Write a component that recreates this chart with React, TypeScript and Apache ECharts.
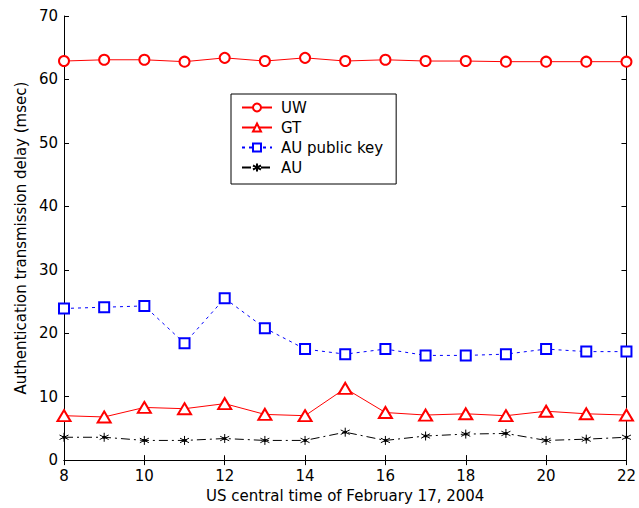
import React, { useEffect, useRef } from "react";
import * as echarts from "echarts";

const hours = [8, 9, 10, 11, 12, 13, 14, 15, 16, 17, 18, 19, 20, 21, 22];
const uw = [62.9, 63.1, 63.1, 62.8, 63.4, 62.9, 63.4, 62.9, 63.1, 62.9, 62.9, 62.8, 62.8, 62.8, 62.8];
const gt = [7.0, 6.8, 8.3, 8.1, 8.9, 7.2, 7.0, 11.3, 7.5, 7.1, 7.3, 7.0, 7.7, 7.3, 7.1];
const auPub = [23.9, 24.1, 24.3, 18.4, 25.5, 20.8, 17.5, 16.7, 17.5, 16.5, 16.5, 16.7, 17.5, 17.1, 17.1];
const au = [3.6, 3.6, 3.1, 3.1, 3.4, 3.1, 3.1, 4.4, 3.1, 3.8, 4.1, 4.2, 3.1, 3.3, 3.6];

const FONT = "'DejaVu Sans', sans-serif";

export default function App() {
  const ref = useRef<HTMLDivElement>(null);
  useEffect(() => {
    if (!ref.current) return;
    const chart = echarts.init(ref.current, undefined, { renderer: "svg" });
    const pairs = (v: number[]) => hours.map((h, i) => [h, v[i]]);
    const axisCommon = {
      axisLine: { show: true, lineStyle: { color: "#000", width: 1 } },
      axisTick: { show: true, inside: true, length: 5, lineStyle: { color: "#000" } },
      splitLine: { show: false },
    };
    chart.setOption({
      animation: false,
      backgroundColor: "#fff",
      textStyle: { fontFamily: FONT },
      grid: { left: 64, right: 7, top: 16, bottom: 47 },
      legend: {
        orient: "vertical",
        left: 231,
        top: 94,
        backgroundColor: "#fff",
        borderColor: "#000",
        borderWidth: 1,
        borderRadius: 0,
        padding: [6, 13, 9, 10],
        itemGap: 5,
        itemWidth: 30,
        itemHeight: 10,
        textStyle: { fontSize: 15, lineHeight: 15, color: "#000", fontFamily: FONT, padding: [0, 0, 0, 4] },
        data: ["UW", "GT", "AU public key", "AU"],
      },
      xAxis: [
        {
          type: "value",
          min: 8,
          max: 22,
          interval: 2,
          name: "US central time of February 17, 2004",
          nameLocation: "middle",
          nameGap: 27,
          nameTextStyle: { fontSize: 15, color: "#000", fontFamily: FONT },
          axisLabel: { fontSize: 15, color: "#000", margin: 8, fontFamily: FONT },
          ...axisCommon,
        },
        {
          type: "value",
          position: "top",
          min: 8,
          max: 22,
          interval: 2,
          axisLabel: { show: false },
          ...axisCommon,
        },
      ],
      yAxis: [
        {
          type: "value",
          min: 0,
          max: 70,
          interval: 10,
          name: "Authentication transmission delay (msec)",
          nameLocation: "middle",
          nameGap: 34,
          nameTextStyle: { fontSize: 15, color: "#000", fontFamily: FONT },
          axisLabel: { fontSize: 15, color: "#000", margin: 6, fontFamily: FONT },
          ...axisCommon,
        },
        {
          type: "value",
          position: "right",
          min: 0,
          max: 70,
          interval: 10,
          axisLabel: { show: false },
          ...axisCommon,
        },
      ],
      series: [
        {
          name: "UW",
          type: "line",
          data: pairs(uw),
          symbol: "emptyCircle",
          symbolSize: 10,
          lineStyle: { color: "#ff0000", width: 1, type: "solid" },
          itemStyle: { color: "#ff0000", borderColor: "#ff0000", borderWidth: 1 },
        },
        {
          name: "GT",
          type: "line",
          data: pairs(gt),
          symbol: "emptyTriangle",
          symbolSize: [13, 11],
          lineStyle: { color: "#ff0000", width: 1, type: "solid" },
          itemStyle: { color: "#ff0000", borderColor: "#ff0000", borderWidth: 1 },
        },
        {
          name: "AU public key",
          type: "line",
          data: pairs(auPub),
          symbol: "emptyRect",
          symbolSize: 10,
          lineStyle: { color: "#0000ff", width: 1, type: [3, 4] },
          itemStyle: { color: "#0000ff", borderColor: "#0000ff", borderWidth: 1 },
        },
        {
          name: "AU",
          type: "line",
          data: pairs(au),
          symbol: "path://M5,0L5,10M0.67,2.5L9.33,7.5M0.67,7.5L9.33,2.5M4,4L6,4L6,6L4,6Z",
          symbolSize: 9,
          lineStyle: { color: "#000", width: 1, type: [9, 4, 2, 4] },
          itemStyle: { color: "#000", borderColor: "#000", borderWidth: 1 },
        },
      ],
    });
    return () => chart.dispose();
  }, []);
  return (
    <div
      ref={ref}
      style={{ position: "fixed", left: 0, top: 0, width: 639, height: 508 }}
    />
  );
}
